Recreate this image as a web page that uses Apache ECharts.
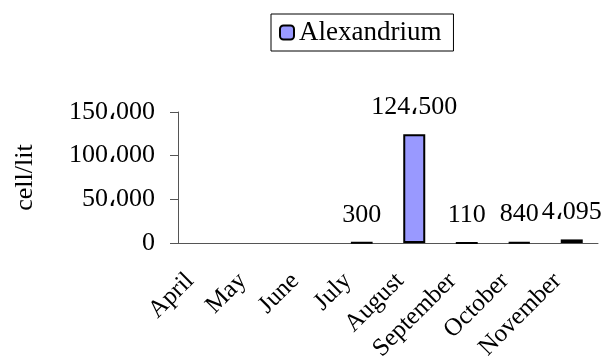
<!DOCTYPE html>
<html>
<head>
<meta charset="utf-8">
<script src="https://cdn.jsdelivr.net/npm/echarts@6/dist/echarts.min.js"></script>
<style>
  html, body { margin: 0; padding: 0; background: #fff; }
  #chart { width: 603px; height: 363px; }
</style>
</head>
<body>
<div id="chart"></div>
<script>
// Monthly Alexandrium density (cell/lit)
const months = ['April', 'May', 'June', 'July', 'August', 'September', 'October', 'November'];
const alexandrium = [null, null, null, 300, 124500, 110, 840, 4095];
const yTicks = [0, 50000, 100000, 150000];

const SEP = '\u060C';
function fmt(v) {
  return String(v).replace(/\B(?=(\d{3})+(?!\d))/g, SEP);
}

const serif = '"Liberation Serif", "Times New Roman", serif';
const chart = echarts.init(document.getElementById('chart'));
chart.setOption({
  animation: false,
  textStyle: { fontFamily: serif, color: '#000' },
  legend: {
    data: ['Alexandrium'],
    left: 271,
    top: 14,
    padding: [5, 12, 5, 8],
    borderColor: '#000',
    borderWidth: 1,
    itemWidth: 14,
    itemHeight: 14,
    itemGap: 9,
    textStyle: { fontFamily: serif, fontSize: 27, color: '#000' }
  },
  grid: { left: 178, right: 5, top: 112, bottom: 120, containLabel: false, outerBoundsMode: 'none' },
  xAxis: {
    type: 'category',
    data: months,
    axisLine: { lineStyle: { color: '#555', width: 1 } },
    axisTick: { alignWithLabel: false, length: 5, lineStyle: { color: '#555' } },
    axisLabel: {
      rotate: 45, margin: 20, padding: [0, 20, 0, 0],
      fontFamily: serif, fontSize: 25, color: '#000'
    }
  },
  yAxis: {
    type: 'value',
    min: yTicks[0],
    max: yTicks[yTicks.length - 1],
    interval: yTicks[1] - yTicks[0],
    name: 'cell/lit',
    nameLocation: 'middle',
    nameRotate: 90,
    nameGap: 140,
    nameMoveOverlap: false,
    nameTextStyle: { fontFamily: serif, fontSize: 26, color: '#000' },
    splitLine: { show: false },
    axisLine: { show: true, lineStyle: { color: '#555', width: 1 } },
    axisTick: { show: true, length: 8, lineStyle: { color: '#555' } },
    axisLabel: { margin: 23, fontFamily: serif, fontSize: 26, color: '#000', formatter: fmt }
  },
  series: [{
    name: 'Alexandrium',
    type: 'bar',
    data: alexandrium,
    barWidth: 22,
    itemStyle: { color: '#9999FF', borderColor: '#000', borderWidth: 2 },
    label: {
      show: true,
      position: 'top',
      distance: 14,
      fontFamily: serif,
      fontSize: 26,
      color: '#000',
      formatter: p => fmt(p.value)
    }
  }]
});
</script>
</body>
</html>
